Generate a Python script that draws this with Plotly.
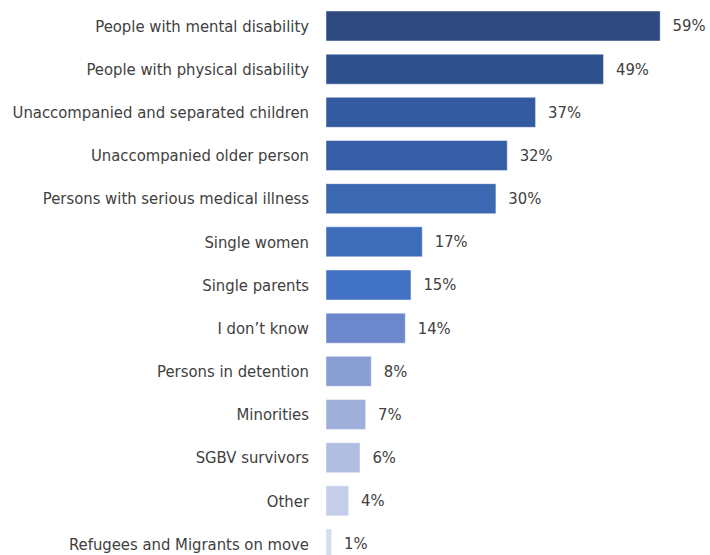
import plotly.graph_objects as go

categories = [
    "People with mental disability",
    "People with physical disability",
    "Unaccompanied and separated children",
    "Unaccompanied older person",
    "Persons with serious medical illness",
    "Single women",
    "Single parents",
    "I don\u2019t know",
    "Persons in detention",
    "Minorities",
    "SGBV survivors",
    "Other",
    "Refugees and Migrants on move",
]
values = [59, 49, 37, 32, 30, 17, 15, 14, 8, 7, 6, 4, 1]
colors = [
    "#2E4A7E", "#2F528F", "#345AA0", "#365EA7", "#3C67B1", "#3E6CB8",
    "#4272C4", "#6C87CC", "#899ED3", "#9EAFDA", "#B0BEE2", "#C4CDE9", "#D7DDF0",
]

FONT = "DejaVu Sans Condensed, Liberation Sans, sans-serif"

fig = go.Figure(go.Bar(
    x=values,
    y=categories,
    orientation="h",
    marker=dict(color=colors, line=dict(color="rgba(255,255,255,0.45)", width=1)),
    text=["&nbsp;&nbsp;%d%%" % v for v in values],
    textposition="outside",
    cliponaxis=False,
    textfont=dict(family=FONT, size=16.5, color="#404040"),
))

fig.update_layout(
    width=710, height=555,
    margin=dict(l=326, r=0, t=0, b=0),
    plot_bgcolor="white", paper_bgcolor="white",
    bargap=0.305,
    showlegend=False,
    font=dict(family=FONT, size=16.5, color="#404040"),
)
fig.update_xaxes(range=[0, 67.8], visible=False)
fig.update_yaxes(
    categoryorder="array", categoryarray=categories,
    range=[12.255, -0.602],
    showgrid=False, zeroline=False, showline=False, ticks="",
    ticklabelstandoff=16,
    tickfont=dict(family=FONT, size=16.5, color="#404040"),
)

fig.write_html("out.html")
